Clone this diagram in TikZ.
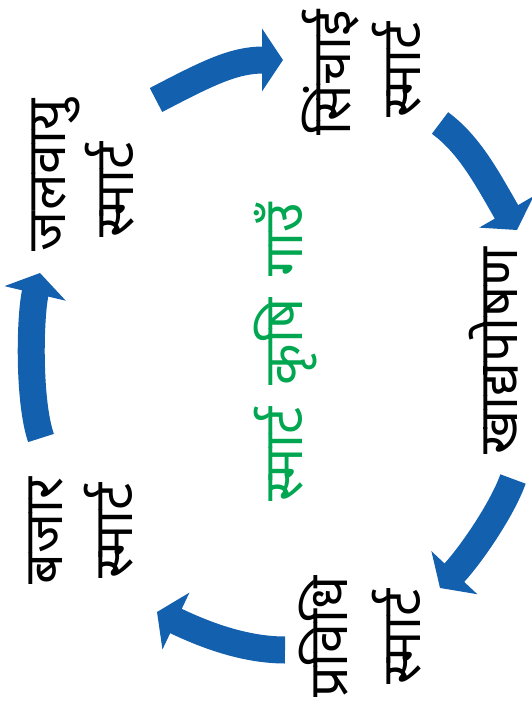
\documentclass[tikz,border=0pt]{standalone}
\usepackage{fontspec}
\newfontfamily\dev[Script=Devanagari, BoldFeatures={FakeBold=1.2}]{Noto Sans}
\usetikzlibrary{arrows.meta}
\definecolor{arrblue}{RGB}{18,96,174}
\definecolor{titlegreen}{RGB}{0,166,80}
\tikzset{
  lbl/.style={rotate=90, anchor=base, inner sep=0pt, font=\dev\bfseries\fontsize{54}{60}\selectfont, text=black},
  ttl/.style={lbl, text=titlegreen},
  cyc/.style={draw=arrblue, line width=27pt, -{Triangle[length=21pt, width=62pt]}, arrblue}
}
\begin{document}
\begin{tikzpicture}[x=1pt,y=-1pt]
\useasboundingbox (0,0) rectangle (532,714);
% labels
\node[lbl] (jal1) at (65,175) {जलवायु};
\node[lbl] (jal2) at (133,190) {स्मार्ट};
\node[lbl] (sin1) at (350,73) {सिंचाई};
\node[lbl] (sin2) at (420,70) {स्मार्ट};
\node[lbl] (khad) at (517,351) {खाद्यपोषण};
\node[lbl] (pra1) at (347,637) {प्रविधि};
\node[lbl] (pra2) at (420,637) {स्मार्ट};
\node[lbl] (baj1) at (62,531) {बजार};
\node[lbl] (baj2) at (132,531) {स्मार्ट};
\node[ttl] (title) at (302,352) {स्मार्ट\hspace{22pt}कृषि\hspace{22pt}गाउँ};
% arrow ends
\coordinate (a1s) at (156,100); \coordinate (a1e) at (283,60);
\coordinate (a2s) at (440,123); \coordinate (a2e) at (517,230);
\coordinate (a3s) at (513,479); \coordinate (a3e) at (440,588);
\coordinate (a4s) at (285,650); \coordinate (a4e) at (157,612);
\coordinate (a5s) at (41,438);  \coordinate (a5e) at (40,273);
% arrows
\draw[cyc] (a1s) .. controls (206,74) and (233,60) .. (a1e);
\draw[cyc] (a2s) .. controls (470,145) and (488,180) .. (a2e);
\draw[cyc] (a3s) .. controls (502,510) and (470,556) .. (a3e);
\draw[cyc] (a4s) .. controls (240,650) and (197,631) .. (a4e);
\draw[cyc] (a5s) .. controls (28,400) and (30,315) .. (a5e);
\end{tikzpicture}
\end{document}
